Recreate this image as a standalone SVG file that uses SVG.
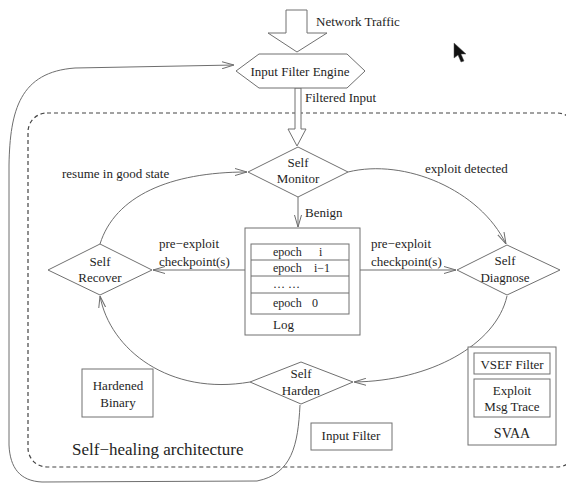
<svg xmlns="http://www.w3.org/2000/svg" width="566" height="483" viewBox="0 0 566 483">
<defs>
<style>
.ln{fill:none;stroke:#6e6e6e;stroke-width:1}
.sh{fill:#fff;stroke:#707070;stroke-width:1}
.t{font-family:"Liberation Serif","Times New Roman",serif;font-size:13px;fill:#1e1e1e}
.c{text-anchor:middle}
.s{font-size:12px}
</style>
<marker id="ah" viewBox="0 0 12 8" refX="12" refY="4" markerWidth="12" markerHeight="8" markerUnits="userSpaceOnUse" orient="auto">
<path d="M0,0.5 L12,4 L0,7.5" fill="none" stroke="#6e6e6e" stroke-width="1"/>
</marker>
</defs>
<rect width="566" height="483" fill="#fff"/>

<g id="boundary">
<rect x="28" y="113" width="548" height="354" rx="19" ry="19" fill="none" stroke="#444" stroke-width="1.2" stroke-dasharray="4,3"/>
<text class="t" x="72" y="455" style="font-size:17px">Self−healing architecture</text>
</g>

<g id="connectors">
<path class="ln" d="M298,197 L298,227" marker-end="url(#ah)"/>
<path class="ln" d="M245,270 L153,270" marker-end="url(#ah)"/>
<path class="ln" d="M360,270 L456,270" marker-end="url(#ah)"/>
<path class="ln" d="M348,172 C405,158 480,190 506,244" marker-end="url(#ah)"/>
<path class="ln" d="M507,296 C496,345 430,381 354,382" marker-end="url(#ah)"/>
<path class="ln" d="M250,382 C170,396 110,350 100,296" marker-end="url(#ah)"/>
<path class="ln" d="M100,244 C115,196 170,172 247,172" marker-end="url(#ah)"/>
<path class="ln" d="M300,405 C298,445 292,474 257,481 L42,482 C20,481 10,468 9,445 L9,165 C10,110 20,72 75,68 L234,65" marker-end="url(#ah)"/>
<path class="sh" d="M286,10 L307,10 L307,33 L327,33 L297,52 L268,33 L286,33 Z"/>
<path class="sh" d="M295,88 L301,88 L301,129 L306,129 L297,146 L288,129 L295,129 Z"/>
<text class="t" x="316" y="26">Network Traffic</text>
<text class="t" x="305" y="102">Filtered Input</text>
<text class="t" x="305" y="217">Benign</text>
<text class="t" x="62" y="178">resume in good state</text>
<text class="t" x="425" y="173">exploit detected</text>
<text class="t" x="159" y="248">pre−exploit</text>
<text class="t" x="159" y="266">checkpoint(s)</text>
<text class="t" x="371" y="248">pre−exploit</text>
<text class="t" x="371" y="266">checkpoint(s)</text>
</g>

<g id="input-filter-engine">
<polygon class="sh" points="236,71 259,54 347,54 365,71 347,88 259,88"/>
<text class="t c" x="300" y="76">Input Filter Engine</text>
</g>

<g id="self-monitor">
<polygon class="sh" points="298,147 348,172 298,197 248,172"/>
<text class="t c" x="298" y="167">Self</text>
<text class="t c" x="298" y="183">Monitor</text>
</g>

<g id="log">
<rect class="sh" x="245" y="228" width="115" height="107"/>
<rect class="sh" x="251" y="244" width="98" height="70"/>
<line class="ln" x1="251" y1="260" x2="349" y2="260"/>
<line class="ln" x1="251" y1="276" x2="349" y2="276"/>
<line class="ln" x1="251" y1="293" x2="349" y2="293"/>
<text class="t s" x="273" y="256">epoch</text><text class="t s" x="319" y="256">i</text>
<text class="t s" x="273" y="272">epoch</text><text class="t s" x="314" y="272">i−1</text>
<text class="t s" x="273" y="288">…  …</text>
<text class="t s" x="273" y="307">epoch</text><text class="t s" x="312" y="307">0</text>
<text class="t" x="273" y="329">Log</text>
</g>

<g id="self-recover">
<polygon class="sh" points="100,244 152,270 100,295 48,270"/>
<text class="t c" x="100" y="266">Self</text>
<text class="t c" x="100" y="282">Recover</text>
</g>

<g id="self-diagnose">
<polygon class="sh" points="507,245 560,270 507,295 457,270"/>
<text class="t c" x="505" y="265">Self</text>
<text class="t c" x="505" y="282">Diagnose</text>
</g>

<g id="self-harden">
<polygon class="sh" points="301,362 353,382 301,404 250,382"/>
<text class="t c" x="301" y="378">Self</text>
<text class="t c" x="301" y="395">Harden</text>
</g>

<g id="hardened-binary">
<rect class="sh" x="82" y="369" width="71" height="48"/>
<text class="t c" x="118" y="390">Hardened</text>
<text class="t c" x="118" y="407">Binary</text>
</g>

<g id="input-filter">
<rect class="sh" x="311" y="423" width="81" height="27"/>
<text class="t c" x="351" y="440">Input Filter</text>
</g>

<g id="svaa">
<rect class="sh" x="468" y="347" width="88" height="98"/>
<rect class="sh" x="474" y="353" width="76" height="21"/>
<rect class="sh" x="474" y="379" width="76" height="38"/>
<text class="t c" x="512" y="369">VSEF Filter</text>
<text class="t c" x="512" y="395">Exploit</text>
<text class="t c" x="512" y="411">Msg Trace</text>
<text class="t c" x="512" y="438" style="font-size:14px">SVAA</text>
</g>

<g id="cursor">
<polygon points="454,43 454,58 458,55 461,62 464,61 461,54 466,54" fill="#111" stroke="#555" stroke-width="0.5"/>
</g>
</svg>
